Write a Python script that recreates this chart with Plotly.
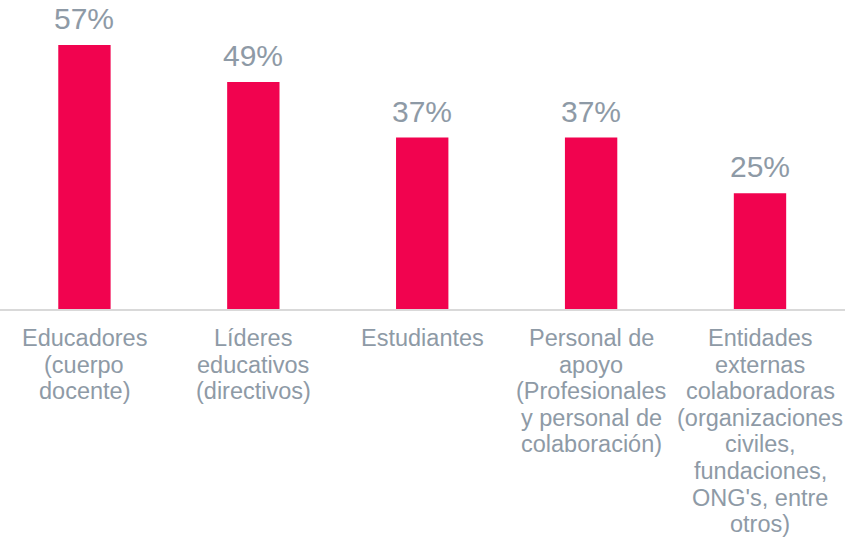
import plotly.graph_objects as go

# category labels, one list of wrapped lines per bar
label_lines = [
    ["Educadores", "(cuerpo", "docente)"],
    ["Líderes", "educativos", "(directivos)"],
    ["Estudiantes"],
    ["Personal de", "apoyo", "(Profesionales", "y personal de", "colaboración)"],
    ["Entidades", "externas", "colaboradoras", "(organizaciones", "civiles,",
     "fundaciones,", "ONG's, entre", "otros)"],
]
categories = [" ".join(lines) for lines in label_lines]
values = [57, 49, 37, 37, 25]
value_labels = [f"{v}%" for v in values]

BAR = "#F1034F"
GREY = "#8E9AA6"
FONT = "Liberation Sans, Arial, sans-serif"
LINE_GAP = 26.6  # tighter than plotly's 1.3em line spacing

fig = go.Figure(go.Bar(
    x=categories,
    y=values,
    width=0.31,
    marker={"color": BAR, "line": {"width": 0}},
    hoverinfo="skip",
))

# value labels above the bars
for cat, v, txt in zip(categories, values, value_labels):
    fig.add_annotation(
        x=cat, y=v, text=txt, showarrow=False,
        yanchor="bottom", yshift=8,
        font={"size": 30, "color": GREY, "family": FONT},
    )

# category labels below the axis, one annotation per line
for cat, lines in zip(categories, label_lines):
    for i, line in enumerate(lines):
        fig.add_annotation(
            x=cat, y=0, yref="paper", text=line, showarrow=False,
            yanchor="top", yshift=-(14 + i * LINE_GAP),
            font={"size": 23.5, "color": GREY, "family": FONT},
        )

fig.update_layout(
    width=846, height=545,
    margin={"l": 0, "r": 1, "t": 0, "b": 236},
    plot_bgcolor="white", paper_bgcolor="white",
    showlegend=False,
    font={"family": FONT, "color": GREY},
    yaxis={"range": [0, 66.7], "visible": False},
    xaxis={
        "showline": True, "linecolor": "#D9D9D9", "linewidth": 2,
        "showticklabels": False, "ticks": "", "automargin": False,
    },
)

# drop the default page margin so the figure sits at the window's corner
fig.write_html(
    "out.html",
    config={"displayModeBar": False},
    post_script="document.body.style.margin='0';",
)
